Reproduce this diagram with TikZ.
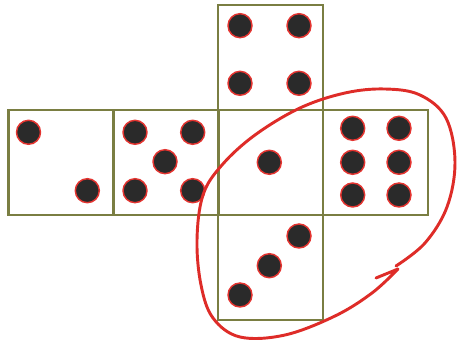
\documentclass[tikz,border=0pt]{standalone}
\usepackage{xcolor}
\usepackage{tikz}
\definecolor{netolive}{RGB}{122,126,66}
\definecolor{pipred}{RGB}{228,52,48}
\definecolor{pipink}{RGB}{42,42,42}
\definecolor{loopred}{RGB}{222,44,40}
\tikzset{
  die face/.style={rectangle, draw=netolive, line width=1.8pt, inner sep=0pt, minimum size=78.75pt},
  die pip/.style={circle, draw=pipred, fill=pipink, line width=1.1pt, inner sep=0pt, minimum size=18pt},
  loop stroke/.style={draw=loopred, line width=2.2pt, line cap=round, line join=round}
}

\begin{document}
\begin{tikzpicture}[x=0.75pt, y=-0.75pt]
      \useasboundingbox (0,0) rectangle (457,341);
      % faces of the net
      \node[die face] (one) at (61,162.5) {};
      \node[die face] (five) at (166,162.5) {};
      \node[die face] (centre) at (270.5,162.5) {};
      \node[die face] (six) at (375.5,162.5) {};
      \node[die face] (four) at (270.5,57.5) {};
      \node[die face] (three) at (270.5,267.5) {};
      % pips
      \node[die pip] (one a) at (28.5,132.3) {};
      \node[die pip] (one b) at (87.3,190.7) {};
      \node[die pip] (five a) at (135,132.3) {};
      \node[die pip] (five b) at (192.7,132.3) {};
      \node[die pip] (five c) at (165,161.7) {};
      \node[die pip] (five d) at (135,190.7) {};
      \node[die pip] (five e) at (192.7,190.7) {};
      \node[die pip] (centre a) at (269.3,162.3) {};
      \node[die pip] (four a) at (240,25.7) {};
      \node[die pip] (four b) at (299,25.7) {};
      \node[die pip] (four c) at (240,83.3) {};
      \node[die pip] (four d) at (299,83.3) {};
      \node[die pip] (six a) at (352.7,128.3) {};
      \node[die pip] (six b) at (399,128.3) {};
      \node[die pip] (six c) at (352.7,162.3) {};
      \node[die pip] (six d) at (399,162.3) {};
      \node[die pip] (six e) at (352.7,195) {};
      \node[die pip] (six f) at (399,195) {};
      \node[die pip] (three a) at (299,236) {};
      \node[die pip] (three b) at (269.3,265.7) {};
      \node[die pip] (three c) at (240,295) {};
      % hand drawn loop
      \coordinate (tip) at (398,269);
      \coordinate (barb) at (376,278);
      \draw[loop stroke] plot[smooth, tension=0.6] coordinates {(396,266) (425,243) (447,207) (455,162) (446,118) (420,95) (385,89) (345,93) (300,108) (255,135) (222,165) (203,195) (197,240) (201,285) (213,318) (240,337) (285,335) (335,316) (372,293) (tip)} -- (barb);
\end{tikzpicture}
\end{document}
